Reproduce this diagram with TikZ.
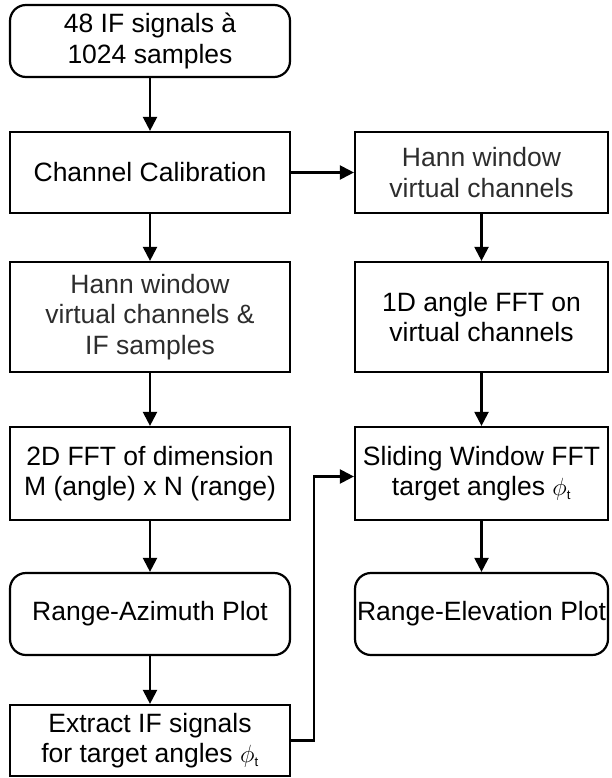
\documentclass[tikz,border=0pt]{standalone}
\usepackage{fontspec}
\setmainfont{Liberation Sans}
\usetikzlibrary{arrows.meta}
\definecolor{txtgray}{RGB}{45,45,45}
\newcommand{\phit}{$\phi_{\scriptscriptstyle\mathrm{t}}$}

\begin{document}
\begin{tikzpicture}[x=1pt, y=-1pt, line width=2.2pt,
  box/.style={draw, align=center, inner sep=0pt, font=\fontsize{26.5}{30.5}\selectfont},
  leftbox/.style={box, minimum width=280pt},
  rightbox/.style={box, minimum width=253pt},
  roundbox/.style={rounded corners=16pt},
  arr/.style={-{Triangle[length=14pt,width=14pt]}}]

\useasboundingbox (0,0) rectangle (612,778);

% Left column
\node[leftbox, roundbox, minimum height=72pt] (input) at (150,41) {48 IF signals à\\1024 samples};
\node[leftbox, minimum height=81pt] (calib) at (150,172.5) {Channel Calibration};
\node[leftbox, minimum height=110pt, text=txtgray] (hannL) at (150,317) {Hann window\\virtual channels \&\\IF samples};
\node[leftbox, minimum height=93pt] (fftTwo) at (150,473.5) {2D FFT of dimension\\M (angle) x N (range)};
\node[leftbox, roundbox, minimum height=82pt] (azimuth) at (150,614) {Range-Azimuth Plot};
\node[leftbox, minimum height=71pt] (extract) at (150,740.5) {Extract IF signals\\for target angles \phit};

% Right column
\node[rightbox, minimum height=81pt, text=txtgray] (hannR) at (481.5,172.5) {Hann window\\virtual channels};
\node[rightbox, minimum height=110pt] (fftOne) at (481.5,317) {1D angle FFT on\\virtual channels};
\node[rightbox, minimum height=93pt] (sliding) at (481.5,473.5) {Sliding Window FFT\\target angles \phit};
\node[rightbox, roundbox, minimum height=82pt] (elevation) at (481.5,614) {Range-Elevation Plot};

% Arrows
\draw[arr] (input) -- (calib);
\draw[arr] (calib) -- (hannL);
\draw[arr] (hannL) -- (fftTwo);
\draw[arr] (fftTwo) -- (azimuth);
\draw[arr] (azimuth) -- (extract);
\draw[arr] (calib) -- (hannR);
\draw[arr] (hannR) -- (fftOne);
\draw[arr] (fftOne) -- (sliding);
\draw[arr] (sliding) -- (elevation);
\draw[arr] (extract.east) -- ++(23,0) |- ([yshift=-3pt]sliding.west);

\end{tikzpicture}
\end{document}
